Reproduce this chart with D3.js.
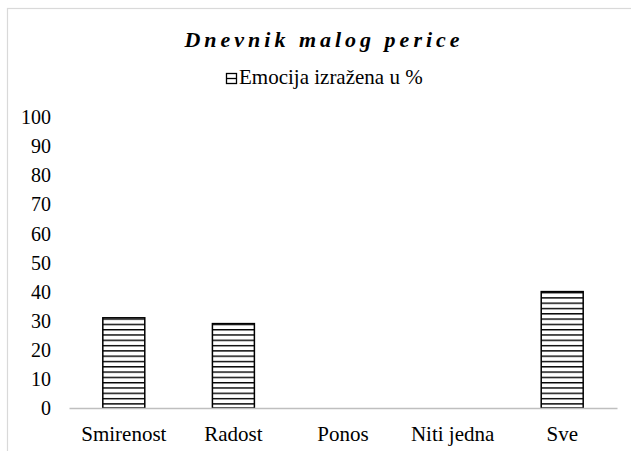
<!DOCTYPE html>
<html>
<head>
<meta charset="utf-8">
<script src="https://cdn.jsdelivr.net/npm/d3@7"></script>
<style>
  body { margin: 0; background: #fff; }
</style>
</head>
<body>
<div id="chart"></div>
<script>
// chart data
var categories = ["Smirenost", "Radost", "Ponos", "Niti jedna", "Sve"];
var values = [31, 29, 0, 0, 40];
var yTicks = [0, 10, 20, 30, 40, 50, 60, 70, 80, 90, 100];
var seriesName = "Emocija izražena u %";
var title = "Dnevnik malog perice";

var FONT = "'Liberation Serif', 'Times New Roman', serif";
var W = 631, H = 451;
var margin = {top: 117, right: 14, bottom: 43, left: 69};
var width = W - margin.left - margin.right;
var height = H - margin.top - margin.bottom;

var svg = d3.select("#chart").append("svg")
    .attr("width", W)
    .attr("height", H);

// horizontal line pattern for bars
var defs = svg.append("defs");
var pat = defs.append("pattern")
    .attr("id", "hlines")
    .attr("patternUnits", "userSpaceOnUse")
    .attr("width", 8)
    .attr("height", 5.3);
pat.append("rect").attr("width", 8).attr("height", 5.3).attr("fill", "#fff");
pat.append("rect").attr("y", 0).attr("width", 8).attr("height", 1.4).attr("fill", "#000");

// outer chart border
svg.append("rect")
    .attr("x", 7.5).attr("y", 8.5)
    .attr("width", W + 10).attr("height", H + 10)
    .attr("fill", "none")
    .attr("stroke", "#d9d9d9")
    .attr("stroke-width", 1.2);

// title
svg.append("text")
    .attr("x", 324)
    .attr("y", 47)
    .attr("text-anchor", "middle")
    .style("font-family", FONT)
    .style("font-size", "22px")
    .style("font-weight", "bold")
    .style("font-style", "italic")
    .style("letter-spacing", "4px")
    .text(title);

// legend
var leg = svg.append("g").attr("transform", "translate(226,73)");
leg.append("rect")
    .attr("x", 0.5).attr("y", 0.5)
    .attr("width", 10).attr("height", 10)
    .attr("fill", "#fff")
    .attr("stroke", "#000")
    .attr("stroke-width", 1.3);
leg.append("line")
    .attr("x1", 0.5).attr("x2", 10.5)
    .attr("y1", 5.5).attr("y2", 5.5)
    .attr("stroke", "#000")
    .attr("stroke-width", 1.3);
leg.append("text")
    .attr("x", 13)
    .attr("y", 11)
    .style("font-family", FONT)
    .style("font-size", "21px")
    .text(seriesName);

var g = svg.append("g")
    .attr("transform", "translate(" + margin.left + "," + margin.top + ")");

var x = d3.scaleBand()
    .domain(categories)
    .range([0, width])
    .paddingInner(0.617)
    .paddingOuter(0.3085);

var y = d3.scaleLinear()
    .domain([0, 100])
    .range([height, 0]);

// y axis labels
var yAxis = d3.axisLeft(y).tickValues(yTicks).tickSize(0).tickPadding(18);
g.append("g")
    .attr("class", "y axis")
    .call(yAxis)
    .call(function(s) {
      s.attr("font-family", null).attr("font-size", null);
      s.select(".domain").remove();
      s.selectAll("text")
          .style("font-family", FONT)
          .style("font-size", "20px")
          .attr("fill", "#000")
          .attr("dy", "0.33em");
    });

// bars
g.selectAll(".bar")
    .data(values)
  .enter().append("rect")
    .attr("class", "bar")
    .attr("x", function(d, i) { return x(categories[i]); })
    .attr("y", function(d) { return y(d); })
    .attr("width", x.bandwidth())
    .attr("height", function(d) { return height - y(d); })
    .attr("fill", "url(#hlines)")
    .attr("stroke", function(d) { return d > 0 ? "#000" : "none"; })
    .attr("stroke-width", 1.5);

// x axis
var xAxis = d3.axisBottom(x).tickSize(0).tickPadding(18);
g.append("g")
    .attr("class", "x axis")
    .attr("transform", "translate(0," + height + ")")
    .call(xAxis)
    .call(function(s) {
      s.attr("font-family", null).attr("font-size", null);
      s.select(".domain").attr("stroke", "#bfbfbf").attr("stroke-width", 1.5);
      s.selectAll("text")
          .style("font-family", FONT)
          .style("font-size", "21px")
          .attr("fill", "#000");
    });
</script>
</body>
</html>
